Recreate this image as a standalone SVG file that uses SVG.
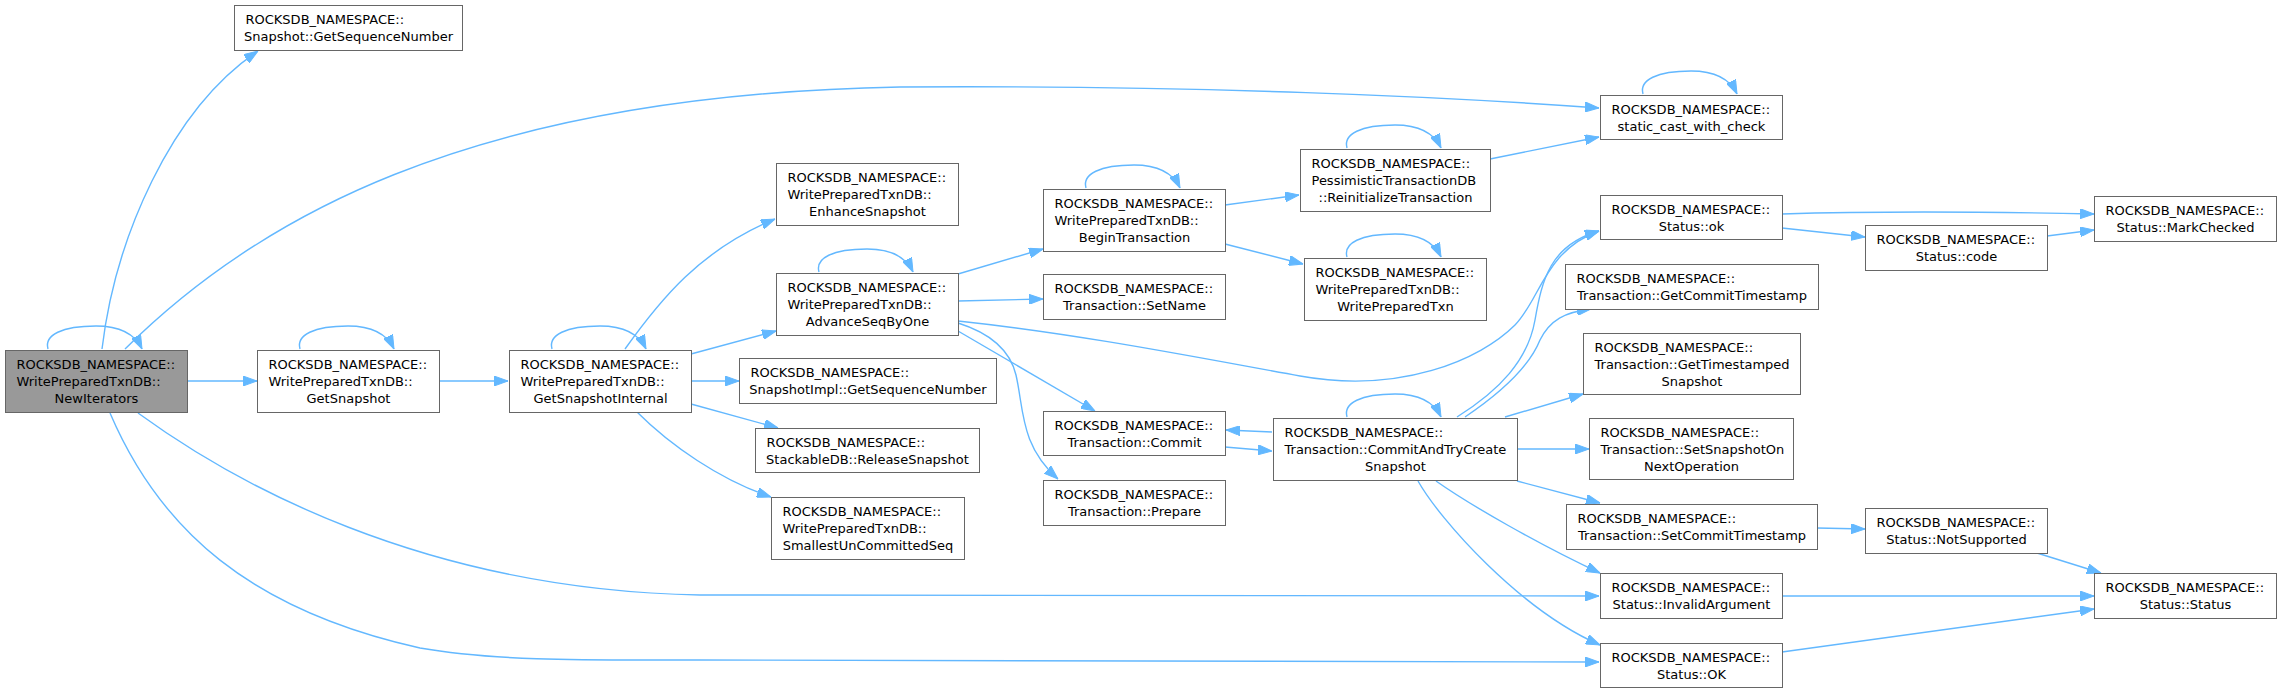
<svg xmlns="http://www.w3.org/2000/svg" width="2282" height="693" viewBox="0 0 2282 693">
<style>
.n{fill:#ffffff;stroke:#666666;stroke-width:1}
.hl{fill:#999999;stroke:#666666;stroke-width:1}
text{font-family:"DejaVu Sans","Liberation Sans",sans-serif;font-size:13px;fill:#000000}
.c{text-anchor:middle}
.e{fill:none;stroke:#63b8ff;stroke-width:1.4;marker-end:url(#arr)}
</style>
<defs>
<marker id="arr" markerUnits="userSpaceOnUse" markerWidth="14" markerHeight="10" refX="14" refY="5" orient="auto">
<path d="M0,0 L14,5 L0,10 z" fill="#63b8ff" stroke="#63b8ff" stroke-width="1"/>
</marker>
</defs>
<rect x="0" y="0" width="2282" height="693" fill="#ffffff"/>
<g id="connectors">
<path class="e" d="M48,349 C44,335 62,326 96,326 C118,326 134,332 142,349"/>
<path class="e" d="M102,349 C115,240 170,110 258,51"/>
<path class="e" d="M125,349 C250,225 460,95 900,87 C1200,85 1450,97 1599,108"/>
<path class="e" d="M187,381 L257,381"/>
<path class="e" d="M138,413 C230,480 420,590 700,595 L1599,596"/>
<path class="e" d="M110,413 C160,530 250,610 420,648 C500,662 600,660 700,660 L1599,662"/>
<path class="e" d="M300,349 C296,335 314,326 348,326 C370,326 386,332 394,349"/>
<path class="e" d="M439,381 L508,381"/>
<path class="e" d="M552,349 C548,335 566,326 600,326 C622,326 638,332 646,349"/>
<path class="e" d="M625,349 C660,300 700,250 775,219"/>
<path class="e" d="M691,354 L776,331"/>
<path class="e" d="M691,381 L739,381"/>
<path class="e" d="M691,404 L778,428"/>
<path class="e" d="M637,412 C670,445 720,480 771,497"/>
<path class="e" d="M819,272 C815,258 833,249 867,249 C889,249 905,255 913,272"/>
<path class="e" d="M958,274 L1043,249"/>
<path class="e" d="M958,301 L1043,299"/>
<path class="e" d="M958,321 C1080,334 1200,358 1300,376 C1400,394 1480,360 1515,325 C1540,300 1545,250 1599,231"/>
<path class="e" d="M958,331 L1095,411"/>
<path class="e" d="M958,323 C990,333 1010,350 1016,375 C1024,410 1020,445 1058,479"/>
<path class="e" d="M1086,188 C1082,174 1100,165 1134,165 C1156,165 1172,171 1180,188"/>
<path class="e" d="M1225,205 L1299,195"/>
<path class="e" d="M1225,244 L1303,264"/>
<path class="e" d="M1347,148 C1343,134 1361,125 1395,125 C1417,125 1433,131 1441,148"/>
<path class="e" d="M1490,159 L1599,137"/>
<path class="e" d="M1347,257 C1343,243 1361,234 1395,234 C1417,234 1433,240 1441,257"/>
<path class="e" d="M1347,417 C1343,403 1361,394 1395,394 C1417,394 1433,400 1441,417"/>
<path class="e" d="M1272,432 L1226,430"/>
<path class="e" d="M1225,447 L1272,451"/>
<path class="e" d="M1457,417 C1500,390 1528,360 1535,320 C1542,280 1550,245 1599,231"/>
<path class="e" d="M1465,417 C1505,390 1530,365 1540,340 C1550,320 1565,312 1591,309"/>
<path class="e" d="M1505,417 L1583,394"/>
<path class="e" d="M1517,449 L1589,449"/>
<path class="e" d="M1517,481 L1600,503"/>
<path class="e" d="M1436,481 C1470,505 1540,545 1600,573"/>
<path class="e" d="M1418,481 C1440,520 1520,610 1600,645"/>
<path class="e" d="M1643,94 C1639,80 1657,71 1691,71 C1713,71 1729,77 1737,94"/>
<path class="e" d="M1782,214 C1880,211 2000,212 2094,214"/>
<path class="e" d="M1782,228 L1865,237"/>
<path class="e" d="M2047,236 L2094,230"/>
<path class="e" d="M1817,528 L1865,529"/>
<path class="e" d="M2037,553 L2101,573"/>
<path class="e" d="M1782,596 L2094,596"/>
<path class="e" d="M1782,652 L2094,609"/>
</g>
<g id="n1"><rect class="hl" x="5.5" y="350.5" width="182" height="62"/><text x="16.5" y="369">ROCKSDB_NAMESPACE::</text><text x="16.5" y="386">WritePreparedTxnDB::</text><text class="c" x="96.5" y="403">NewIterators</text></g>
<g id="n2"><rect class="n" x="234.5" y="5.5" width="228" height="45"/><text x="245.5" y="24">ROCKSDB_NAMESPACE::</text><text class="c" x="348.5" y="41">Snapshot::GetSequenceNumber</text></g>
<g id="n3"><rect class="n" x="257.5" y="350.5" width="182" height="62"/><text x="268.5" y="369">ROCKSDB_NAMESPACE::</text><text x="268.5" y="386">WritePreparedTxnDB::</text><text class="c" x="348.5" y="403">GetSnapshot</text></g>
<g id="n4"><rect class="n" x="509.5" y="350.5" width="182" height="62"/><text x="520.5" y="369">ROCKSDB_NAMESPACE::</text><text x="520.5" y="386">WritePreparedTxnDB::</text><text class="c" x="600.5" y="403">GetSnapshotInternal</text></g>
<g id="n5"><rect class="n" x="776.5" y="163.5" width="182" height="62"/><text x="787.5" y="182">ROCKSDB_NAMESPACE::</text><text x="787.5" y="199">WritePreparedTxnDB::</text><text class="c" x="867.5" y="216">EnhanceSnapshot</text></g>
<g id="n6"><rect class="n" x="776.5" y="273.5" width="182" height="62"/><text x="787.5" y="292">ROCKSDB_NAMESPACE::</text><text x="787.5" y="309">WritePreparedTxnDB::</text><text class="c" x="867.5" y="326">AdvanceSeqByOne</text></g>
<g id="n7"><rect class="n" x="739.5" y="358.5" width="257" height="45"/><text x="750.5" y="377">ROCKSDB_NAMESPACE::</text><text class="c" x="868" y="394">SnapshotImpl::GetSequenceNumber</text></g>
<g id="n8"><rect class="n" x="755.5" y="428.5" width="224" height="44"/><text x="766.5" y="447">ROCKSDB_NAMESPACE::</text><text class="c" x="867.5" y="464">StackableDB::ReleaseSnapshot</text></g>
<g id="n9"><rect class="n" x="771.5" y="497.5" width="193" height="62"/><text x="782.5" y="516">ROCKSDB_NAMESPACE::</text><text x="782.5" y="533">WritePreparedTxnDB::</text><text class="c" x="868" y="550">SmallestUnCommittedSeq</text></g>
<g id="n10"><rect class="n" x="1043.5" y="189.5" width="182" height="62"/><text x="1054.5" y="208">ROCKSDB_NAMESPACE::</text><text x="1054.5" y="225">WritePreparedTxnDB::</text><text class="c" x="1134.5" y="242">BeginTransaction</text></g>
<g id="n11"><rect class="n" x="1043.5" y="274.5" width="182" height="45"/><text x="1054.5" y="293">ROCKSDB_NAMESPACE::</text><text class="c" x="1134.5" y="310">Transaction::SetName</text></g>
<g id="n12"><rect class="n" x="1043.5" y="411.5" width="182" height="44"/><text x="1054.5" y="430">ROCKSDB_NAMESPACE::</text><text class="c" x="1134.5" y="447">Transaction::Commit</text></g>
<g id="n13"><rect class="n" x="1043.5" y="480.5" width="182" height="45"/><text x="1054.5" y="499">ROCKSDB_NAMESPACE::</text><text class="c" x="1134.5" y="516">Transaction::Prepare</text></g>
<g id="n14"><rect class="n" x="1300.5" y="149.5" width="190" height="62"/><text x="1311.5" y="168">ROCKSDB_NAMESPACE::</text><text x="1311.5" y="185">PessimisticTransactionDB</text><text class="c" x="1395.5" y="202">::ReinitializeTransaction</text></g>
<g id="n15"><rect class="n" x="1304.5" y="258.5" width="182" height="62"/><text x="1315.5" y="277">ROCKSDB_NAMESPACE::</text><text x="1315.5" y="294">WritePreparedTxnDB::</text><text class="c" x="1395.5" y="311">WritePreparedTxn</text></g>
<g id="n16"><rect class="n" x="1273.5" y="418.5" width="244" height="62"/><text x="1284.5" y="437">ROCKSDB_NAMESPACE::</text><text x="1284.5" y="454">Transaction::CommitAndTryCreate</text><text class="c" x="1395.5" y="471">Snapshot</text></g>
<g id="n17"><rect class="n" x="1600.5" y="95.5" width="182" height="44"/><text x="1611.5" y="114">ROCKSDB_NAMESPACE::</text><text class="c" x="1691.5" y="131">static_cast_with_check</text></g>
<g id="n18"><rect class="n" x="1600.5" y="195.5" width="182" height="44"/><text x="1611.5" y="214">ROCKSDB_NAMESPACE::</text><text class="c" x="1691.5" y="231">Status::ok</text></g>
<g id="n19"><rect class="n" x="1565.5" y="264.5" width="253" height="45"/><text x="1576.5" y="283">ROCKSDB_NAMESPACE::</text><text class="c" x="1692" y="300">Transaction::GetCommitTimestamp</text></g>
<g id="n20"><rect class="n" x="1583.5" y="333.5" width="217" height="61"/><text x="1594.5" y="352">ROCKSDB_NAMESPACE::</text><text x="1594.5" y="369">Transaction::GetTimestamped</text><text class="c" x="1692" y="386">Snapshot</text></g>
<g id="n21"><rect class="n" x="1589.5" y="418.5" width="204" height="61"/><text x="1600.5" y="437">ROCKSDB_NAMESPACE::</text><text x="1600.5" y="454">Transaction::SetSnapshotOn</text><text class="c" x="1691.5" y="471">NextOperation</text></g>
<g id="n22"><rect class="n" x="1566.5" y="504.5" width="251" height="45"/><text x="1577.5" y="523">ROCKSDB_NAMESPACE::</text><text class="c" x="1692" y="540">Transaction::SetCommitTimestamp</text></g>
<g id="n23"><rect class="n" x="1600.5" y="573.5" width="182" height="45"/><text x="1611.5" y="592">ROCKSDB_NAMESPACE::</text><text class="c" x="1691.5" y="609">Status::InvalidArgument</text></g>
<g id="n24"><rect class="n" x="1600.5" y="643.5" width="182" height="44"/><text x="1611.5" y="662">ROCKSDB_NAMESPACE::</text><text class="c" x="1691.5" y="679">Status::OK</text></g>
<g id="n25"><rect class="n" x="1865.5" y="225.5" width="182" height="45"/><text x="1876.5" y="244">ROCKSDB_NAMESPACE::</text><text class="c" x="1956.5" y="261">Status::code</text></g>
<g id="n26"><rect class="n" x="2094.5" y="196.5" width="182" height="45"/><text x="2105.5" y="215">ROCKSDB_NAMESPACE::</text><text class="c" x="2185.5" y="232">Status::MarkChecked</text></g>
<g id="n27"><rect class="n" x="1865.5" y="508.5" width="182" height="45"/><text x="1876.5" y="527">ROCKSDB_NAMESPACE::</text><text class="c" x="1956.5" y="544">Status::NotSupported</text></g>
<g id="n28"><rect class="n" x="2094.5" y="573.5" width="182" height="45"/><text x="2105.5" y="592">ROCKSDB_NAMESPACE::</text><text class="c" x="2185.5" y="609">Status::Status</text></g>
</svg>
